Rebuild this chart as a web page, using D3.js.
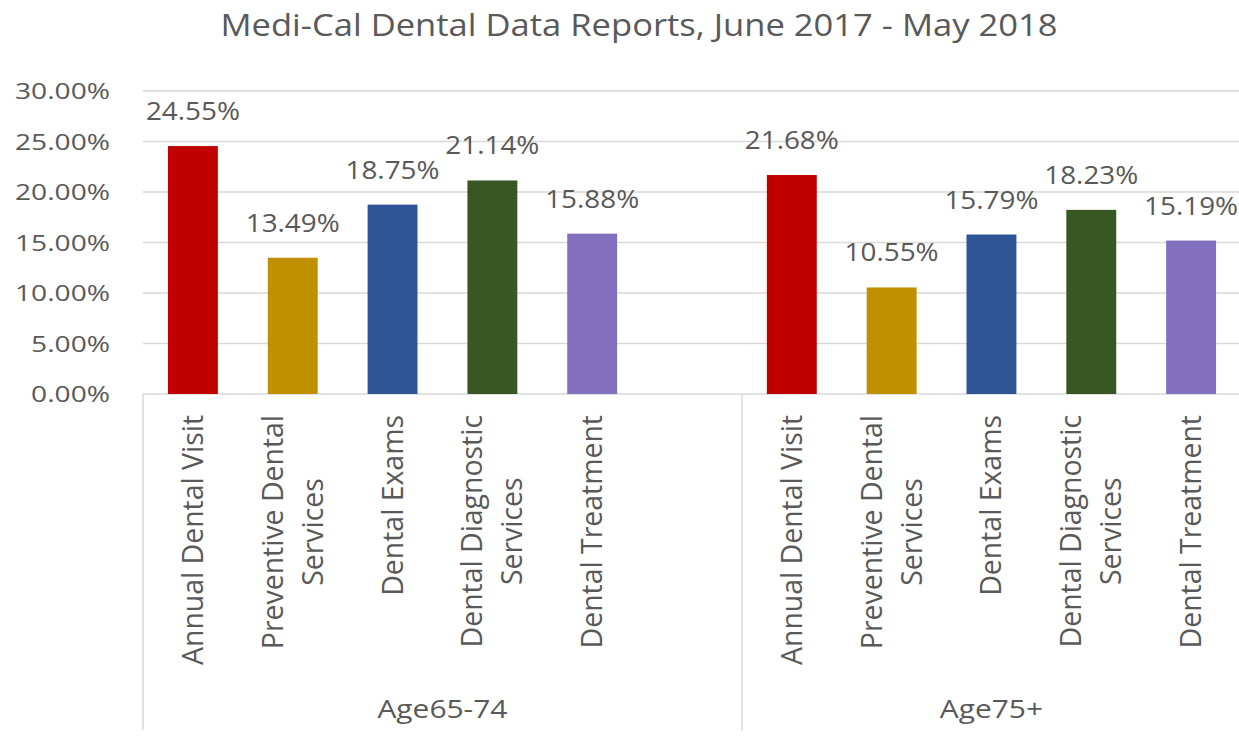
<!DOCTYPE html>
<html>
<head>
<meta charset="utf-8">
<script src="https://cdn.jsdelivr.net/npm/d3@7"></script>
<style>
  html, body { margin: 0; padding: 0; background: #fff; }
  svg { display: block; }
  text { font-family: "Open Sans", "DejaVu Sans", sans-serif; fill: #595959; }
</style>
</head>
<body>
<svg id="chart" width="1239" height="742"></svg>
<script>
// ---------------- data ----------------
const title = "Medi-Cal Dental Data Reports, June 2017 - May 2018";
const groups = ["Age65-74", "Age75+"];
const categories = ["Annual Dental Visit", "Preventive Dental Services", "Dental Exams", "Dental Diagnostic Services", "Dental Treatment"];
const age65to74 = [24.55, 13.49, 18.75, 21.14, 15.88];
const age75plus = [21.68, 10.55, 15.79, 18.23, 15.19];
const groupValues = [age65to74, age75plus];
// the source sheet has one empty category row at the end of the first group
const emptySlots = [1, 0];
const yTicks = [0, 5, 10, 15, 20, 25, 30];
const barColors = ["#c00000", "#bf9000", "#2f5597", "#385723", "#8270bf"];

// ---------------- layout ----------------
const svg = d3.select("#chart");
const W = 1239, H = 742;
const plot = { left: 143, right: 1241, top: 91, bottom: 394 };
const axisBottom = 730;       // bottom of the category separator lines
const catTop = 415;           // top end of rotated category labels
const sx = 1.2;               // horizontal stretch of the source image

// build slot list
const slots = [];
groups.forEach((g, gi) => {
  categories.forEach((c, ci) => slots.push({ key: g + "|" + c, group: g, gi, cat: c, ci, value: groupValues[gi][ci] }));
  for (let e = 0; e < emptySlots[gi]; e++) slots.push({ key: g + "|empty" + e, group: g, gi, cat: "", ci: -1, value: null });
});

const x = d3.scaleBand().domain(slots.map(d => d.key)).range([plot.left, plot.right]).paddingInner(0.5).paddingOuter(0.25);
const y = d3.scaleLinear().domain([0, 30]).range([plot.bottom, plot.top]);

function fitText(sel, k) {
  sel.each(function () {
    const n = this.getComputedTextLength();
    d3.select(this).attr("textLength", n * k).attr("lengthAdjust", "spacingAndGlyphs");
  });
}
function kFor(sample, size, target) {
  const t = svg.append("text").attr("font-size", size).text(sample);
  const n = t.node().getComputedTextLength();
  t.remove();
  return target / n;
}

// gridlines
svg.append("g").selectAll("line").data(yTicks.slice(1)).join("line")
  .attr("x1", plot.left).attr("x2", W)
  .attr("y1", d => y(d)).attr("y2", d => y(d))
  .attr("stroke", "#d9d9d9").attr("stroke-width", 1.5);

// y tick labels
const tickSize = 22;
const kTick = kFor("30.00%", tickSize, 95);
svg.append("g").selectAll("text").data(yTicks).join("text")
  .attr("x", 110).attr("y", d => y(d) + 8)
  .attr("text-anchor", "end").attr("font-size", tickSize)
  .text(d => d3.format(".2f")(d) + "%")
  .call(fitText, kTick);

// category axis line and separators
svg.append("line").attr("x1", plot.left).attr("x2", W).attr("y1", y(0)).attr("y2", y(0))
  .attr("stroke", "#d9d9d9").attr("stroke-width", 1.5);
const groupBounds = groups.map(g => {
  const ks = slots.filter(s => s.group === g);
  return { g, x0: x(ks[0].key) - x.step() * x.paddingInner() / 2, x1: x(ks[ks.length - 1].key) + x.bandwidth() + x.step() * x.paddingInner() / 2 };
});
svg.append("g").selectAll("line").data(groupBounds.map(b => b.x0).concat([groupBounds[groupBounds.length - 1].x1])).join("line")
  .attr("x1", d => d).attr("x2", d => d).attr("y1", y(0)).attr("y2", axisBottom)
  .attr("stroke", "#d9d9d9").attr("stroke-width", 1.5);

// bars
const bars = slots.filter(s => s.value !== null);
svg.append("g").selectAll("rect").data(bars).join("rect")
  .attr("x", d => x(d.key)).attr("width", x.bandwidth())
  .attr("y", d => y(d.value)).attr("height", d => y(0) - y(d.value))
  .attr("fill", d => barColors[d.ci]);

// data labels
const lblSize = 25;
const kLbl = kFor("24.55%", lblSize, 94);
svg.append("g").selectAll("text").data(bars).join("text")
  .attr("x", d => x(d.key) + x.bandwidth() / 2).attr("y", d => y(d.value) - 26)
  .attr("text-anchor", "middle").attr("font-size", lblSize)
  .text(d => d3.format(".2f")(d.value) + "%")
  .call(fitText, kLbl);

// rotated category labels
const catSize = 24;
const kCat = kFor("Annual Dental Visit", catSize, 250);
const maxLine = 262;
function measure(str) {
  const t = svg.append("text").attr("font-size", catSize).text(str);
  const n = t.node().getComputedTextLength() * kCat;
  t.remove();
  return n;
}
function wrap(str) {
  const words = str.split(" ");
  const lines = [];
  let cur = "";
  words.forEach(w => {
    const test = cur ? cur + " " + w : w;
    if (cur && measure(test) > maxLine) { lines.push(cur); cur = w; } else cur = test;
  });
  if (cur) lines.push(cur);
  return lines;
}
const lineGap = 40;
bars.forEach(d => {
  const cx = x(d.key) + x.bandwidth() / 2;
  const lines = wrap(d.cat);
  const lens = lines.map(measure);
  const block = d3.max(lens);
  const g = svg.append("g").attr("transform", `translate(${cx},${catTop}) rotate(-90) scale(1,${sx})`);
  lines.forEach((ln, i) => {
    g.append("text")
      .attr("x", -block / 2)
      .attr("y", (10 + (i - (lines.length - 1) / 2) * lineGap) / sx)
      .attr("text-anchor", "middle").attr("font-size", catSize)
      .attr("textLength", lens[i]).attr("lengthAdjust", "spacingAndGlyphs")
      .text(ln);
  });
});

// group labels
const grpSize = 26;
const kGrp = kFor("Age65-74", grpSize, 130);
svg.append("g").selectAll("text").data(groupBounds).join("text")
  .attr("x", d => (d.x0 + d.x1) / 2).attr("y", 718)
  .attr("text-anchor", "middle").attr("font-size", grpSize)
  .text(d => d.g)
  .call(fitText, kGrp);

// title
const titleSize = 31;
const kTitle = kFor(title, titleSize, 837);
svg.append("text").attr("x", (plot.left + W) / 2 - 52).attr("y", 36)
  .attr("text-anchor", "middle").attr("font-size", titleSize)
  .text(title).call(fitText, kTitle);
</script>
</body>
</html>
